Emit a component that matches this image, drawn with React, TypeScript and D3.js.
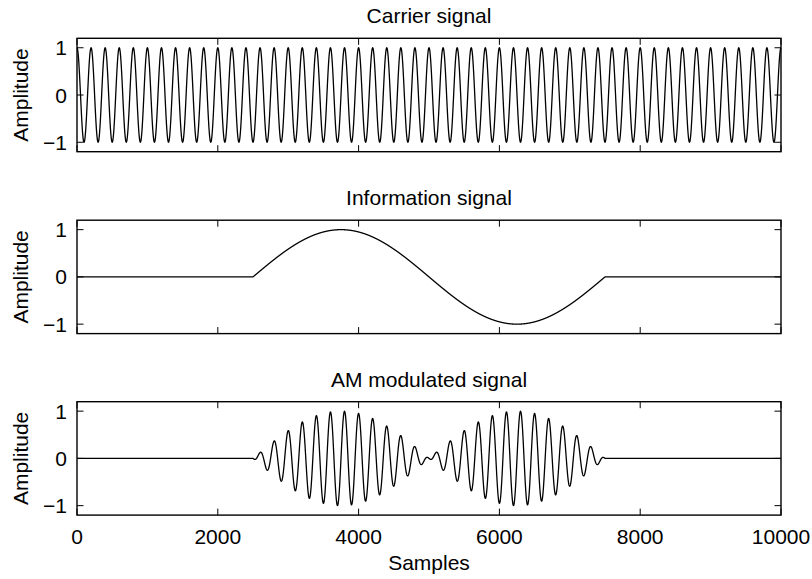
import React from 'react';
import * as d3 from 'd3';

// Signal parameters
const SAMPLE_COUNT = 10000;
const CARRIER_PERIOD = 200; // samples per carrier cycle
const MESSAGE_START = 2500; // information burst begins
const MESSAGE_END = 7500; // information burst ends

const xTicks = [0, 2000, 4000, 6000, 8000, 10000];
const yTicks = [-1, 0, 1];
const panelTitles = ['Carrier signal', 'Information signal', 'AM modulated signal'];
const xDomain = [0, 10000];
const yDomain = [-1.2, 1.2];

const sampleIndex = d3.range(0, SAMPLE_COUNT + 1);
const carrier = sampleIndex.map((n) => Math.cos((2 * Math.PI * n) / CARRIER_PERIOD));
const message = sampleIndex.map((n) =>
  n >= MESSAGE_START && n <= MESSAGE_END
    ? Math.sin((2 * Math.PI * (n - MESSAGE_START)) / (MESSAGE_END - MESSAGE_START))
    : 0
);
const modulated = sampleIndex.map((_, i) => carrier[i] * message[i]);
const seriesList = [carrier, message, modulated];

const W = 812;
const H = 579;
const left = 77;
const right = 781;
const panelTops = [38.3, 220.2, 401.7];
const panelHeight = 113.4;
const FONT = '"Liberation Sans", Arial, Helvetica, sans-serif';
const FS = 21;
const TICK = 6.5;

const x = d3.scaleLinear().domain(xDomain).range([left, right]);

function Panel({ idx }: { idx: number }) {
  const top = panelTops[idx];
  const bottom = top + panelHeight;
  const y = d3.scaleLinear().domain(yDomain).range([bottom, top]);
  const values = seriesList[idx];
  const line = d3
    .line<number>()
    .x((_, i) => x(sampleIndex[i]))
    .y((v) => y(v));
  const isLast = idx === seriesList.length - 1;
  return (
    <g>
      <text
        x={(left + right) / 2}
        y={top - 15}
        textAnchor="middle"
        fontSize={FS}
        fontFamily={FONT}
      >
        {panelTitles[idx]}
      </text>
      <path d={line(values) || ''} fill="none" stroke="#000" strokeWidth={1.3} />
      {xTicks.map((t) => (
        <g key={'x' + t}>
          <line x1={x(t)} x2={x(t)} y1={top} y2={top + TICK} stroke="#000" strokeWidth={1} />
          <line x1={x(t)} x2={x(t)} y1={bottom} y2={bottom - TICK} stroke="#000" strokeWidth={1} />
          {isLast && (
            <text
              x={x(t)}
              y={bottom + 29}
              textAnchor="middle"
              fontSize={FS}
              fontFamily={FONT}
            >
              {t}
            </text>
          )}
        </g>
      ))}
      {yTicks.map((t) => (
        <g key={'y' + t}>
          <line x1={left} x2={left + TICK} y1={y(t)} y2={y(t)} stroke="#000" strokeWidth={1} />
          <line x1={right} x2={right - TICK} y1={y(t)} y2={y(t)} stroke="#000" strokeWidth={1} />
          <text
            x={left - 10}
            y={y(t) + 7.5}
            textAnchor="end"
            fontSize={FS}
            fontFamily={FONT}
          >
            {t < 0 ? '\u2212' + Math.abs(t) : String(t)}
          </text>
        </g>
      ))}
      <rect
        x={left}
        y={top}
        width={right - left}
        height={panelHeight}
        fill="none"
        stroke="#000"
        strokeWidth={1.4}
      />
      <text
        transform={`translate(28.3, ${(top + bottom) / 2}) rotate(-90)`}
        textAnchor="middle"
        fontSize={FS}
        fontFamily={FONT}
      >
        Amplitude
      </text>
    </g>
  );
}

export default function App() {
  return (
    <svg
      width={W}
      height={H}
      style={{ position: 'absolute', left: 0, top: 0, background: '#fff' }}
    >
      <rect x={0} y={0} width={W} height={H} fill="#fff" />
      {seriesList.map((_, i) => (
        <Panel key={i} idx={i} />
      ))}
      <text
        x={(left + right) / 2}
        y={570}
        textAnchor="middle"
        fontSize={FS}
        fontFamily={FONT}
      >
        Samples
      </text>
    </svg>
  );
}
